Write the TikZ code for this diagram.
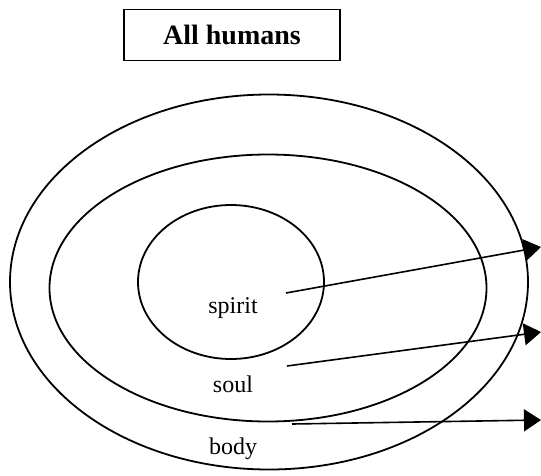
\documentclass[tikz,border=0pt]{standalone}
\usepackage{fontspec}
\setmainfont{Liberation Serif}
\usetikzlibrary{shapes.geometric,arrows.meta}
\begin{document}
\begin{tikzpicture}[x=1pt,y=-1pt,
  ring/.style={draw,line width=1.8pt,ellipse,inner sep=0pt},
  lbl/.style={font=\fontsize{24}{28}\selectfont,inner sep=0pt},
  conn/.style={line width=1.6pt,-{Triangle[length=17pt,width=22pt]}},
  titlebox/.style={draw,line width=1.8pt,minimum width=216pt,minimum height=51pt,font=\fontsize{28}{32}\selectfont\bfseries}]
\useasboundingbox (0,0) rectangle (541,475);
\node[titlebox] (title) at (232,35) {All humans};
\node[ring,minimum width=518pt,minimum height=375pt] (body) at (269,282) {};
\node[ring,minimum width=437pt,minimum height=267pt] (soul) at (268,288) {};
\node[ring,minimum width=186pt,minimum height=154pt] (spirit) at (231,282) {};
\node[lbl] (tspirit) at (233,308) {spirit};
\node[lbl] (tsoul) at (233,384) {soul};
\node[lbl] (tbody) at (233,449) {body};
\coordinate (s1) at (286,293);
\coordinate (e1) at (541,247);
\coordinate (s2) at (287,366);
\coordinate (e2) at (541,332);
\coordinate (s3) at (292,424);
\coordinate (e3) at (541,420);
\draw[conn] (s1) -- (e1);
\draw[conn] (s2) -- (e2);
\draw[conn] (s3) -- (e3);
\end{tikzpicture}
\end{document}
